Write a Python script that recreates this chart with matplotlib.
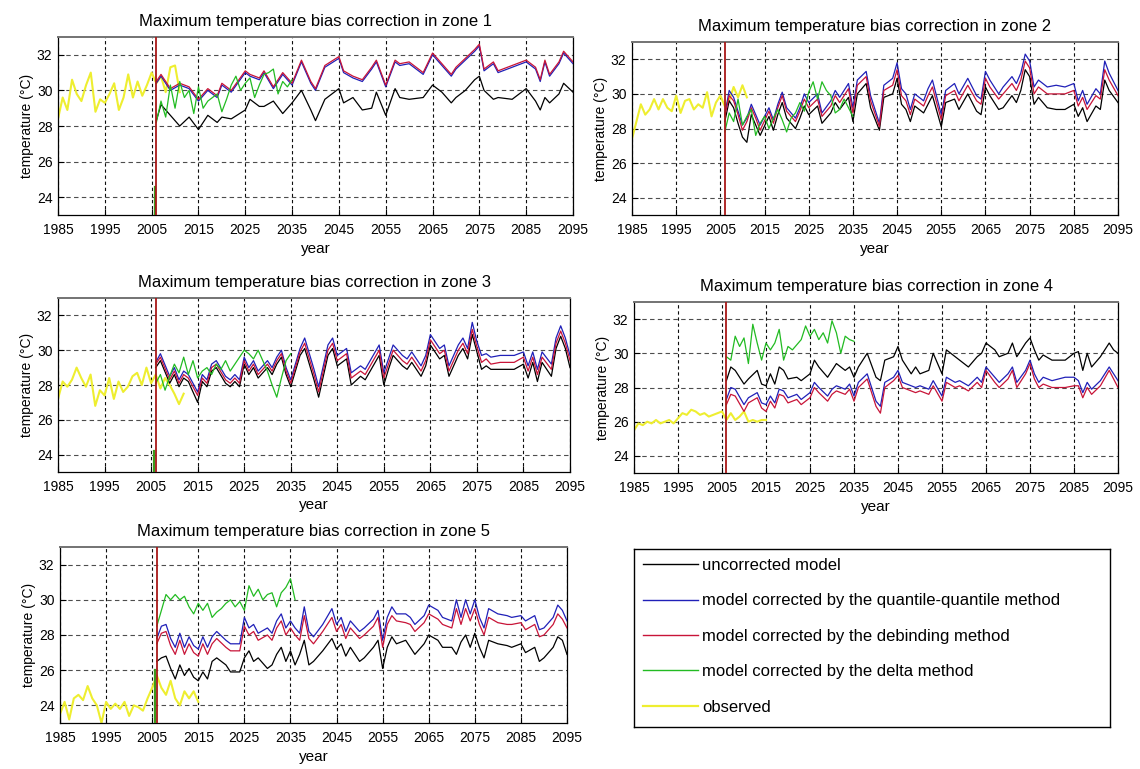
import numpy as np
import matplotlib.pyplot as plt
from matplotlib.lines import Line2D

plt.rcParams["font.family"] = ["Liberation Sans", "DejaVu Sans"]

# ---- zone 1 ----
z1_obs = [28.4, 29.6, 28.9, 30.6, 29.8, 29.4, 30.3, 31.0, 28.8, 29.5, 29.3, 29.8, 30.4, 28.9,
          29.6, 30.9, 29.6, 30.5, 29.7, 30.3, 31.0, 30.4, 30.8, 29.9, 31.3, 31.4, 29.9]
z1_years = [2006, 2007, 2009, 2011, 2013, 2015, 2017, 2019, 2020, 2022, 2025, 2026, 2028, 2029,
            2031, 2033, 2035, 2037, 2039, 2040, 2042, 2045, 2046, 2048, 2050, 2052, 2053, 2055,
            2057, 2058, 2060, 2063, 2065, 2067, 2069, 2070, 2072, 2074, 2075, 2076, 2078, 2079,
            2082, 2085, 2087, 2088, 2089, 2090, 2092, 2093, 2095]
z1_raw = [28.3, 29.2, 28.6, 28.0, 28.5, 27.8, 28.6, 28.2, 28.5, 28.4, 28.9, 29.5, 29.1, 29.1,
          29.4, 28.7, 29.3, 30.0, 28.9, 28.3, 29.5, 30.1, 29.3, 29.6, 28.9, 29.0, 29.9, 28.6,
          30.1, 29.6, 29.5, 29.6, 30.3, 29.9, 29.3, 29.6, 30.0, 30.6, 30.8, 30.0, 29.5, 29.6,
          29.5, 30.1, 29.4, 28.9, 29.6, 29.3, 29.8, 30.4, 29.9]
z1_qq = [30.4, 30.8, 30.0, 30.3, 30.1, 29.4, 30.0, 29.6, 30.3, 29.9, 31.0, 30.8, 30.6, 31.0,
         30.1, 30.9, 30.3, 31.6, 30.4, 30.0, 31.3, 31.8, 31.0, 30.7, 30.5, 31.2, 31.6, 30.2,
         31.6, 31.4, 31.5, 30.9, 32.0, 31.4, 30.8, 31.2, 31.7, 32.2, 32.5, 31.1, 31.5, 31.0,
         31.3, 31.6, 31.2, 30.5, 31.6, 30.8, 31.5, 32.1, 31.5]
z1_deb = [30.5, 30.9, 30.1, 30.4, 30.2, 29.5, 30.1, 29.7, 30.4, 30.0, 31.1, 30.9, 30.7, 31.1,
          30.2, 31.0, 30.4, 31.7, 30.5, 30.1, 31.4, 31.9, 31.1, 30.8, 30.6, 31.3, 31.7, 30.3,
          31.7, 31.5, 31.6, 31.0, 32.1, 31.5, 30.9, 31.3, 31.8, 32.3, 32.6, 31.2, 31.6, 31.1,
          31.4, 31.7, 31.3, 30.6, 31.7, 30.9, 31.6, 32.2, 31.6]
z1_delta = [28.2, 29.4, 28.5, 30.3, 29.0, 30.5, 29.6, 30.0, 28.7, 30.2, 29.0, 29.4, 29.6, 29.8,
            28.8, 29.5, 30.3, 30.8, 30.0, 30.4, 30.7, 29.6, 30.3, 30.9, 31.0, 31.2, 29.8, 30.5,
            30.2, 30.6]

# ---- zone 2 ----
z2_obs = [27.4, 28.4, 29.4, 28.8, 29.1, 29.7, 29.1, 29.7, 29.2, 29.0, 29.9, 28.9, 29.6, 29.7,
          29.1, 29.4, 29.2, 30.1, 28.7, 29.5, 29.9, 29.3, 29.6, 30.4, 29.8, 30.5, 29.8]
z2_years = [2006, 2007, 2008, 2009, 2010, 2011, 2012, 2013, 2014, 2016, 2017, 2018, 2019, 2020,
            2022, 2023, 2024, 2025, 2027, 2028, 2030, 2031, 2032, 2034, 2035, 2036, 2038, 2039,
            2041, 2042, 2044, 2045, 2046, 2047, 2048, 2049, 2051, 2052, 2053, 2055, 2056, 2058,
            2059, 2061, 2063, 2064, 2065, 2066, 2068, 2069, 2071, 2072, 2073, 2074, 2075, 2076,
            2077, 2079, 2081, 2083, 2085, 2086, 2087, 2088, 2090, 2091, 2092, 2093, 2095]
z2_raw = [28.4, 29.6, 29.2, 28.3, 27.5, 27.2, 28.8, 28.2, 27.6, 28.7, 27.9, 28.8, 29.5, 28.6,
          28.0, 28.6, 29.3, 28.8, 29.3, 28.3, 28.9, 29.5, 29.1, 29.8, 28.4, 30.0, 30.6, 29.2,
          27.9, 29.8, 30.0, 30.9, 29.4, 29.1, 28.4, 29.3, 28.9, 29.4, 29.9, 28.1, 29.5, 29.7,
          29.1, 30.0, 29.0, 28.8, 30.4, 29.9, 29.1, 29.2, 29.9, 29.5, 30.2, 31.4, 31.0, 29.4,
          29.8, 29.2, 29.1, 29.1, 29.4, 28.7, 29.2, 28.4, 29.3, 29.1, 30.8, 30.2, 29.5]
z2_qq = [28.8, 30.2, 29.8, 29.0, 28.2, 28.6, 29.4, 28.8, 28.2, 29.2, 28.5, 29.4, 30.1, 29.2,
         28.6, 29.2, 30.0, 29.5, 30.0, 28.9, 29.6, 30.2, 29.8, 30.6, 29.2, 30.8, 31.3, 29.9,
         28.3, 30.5, 30.9, 31.8, 30.3, 30.0, 29.1, 30.0, 29.6, 30.3, 30.8, 28.8, 30.2, 30.6,
         30.0, 30.9, 29.9, 29.7, 31.3, 30.8, 30.0, 30.4, 31.0, 30.6, 31.2, 32.3, 31.9, 30.4,
         30.8, 30.4, 30.5, 30.4, 30.6, 29.6, 30.2, 29.4, 30.3, 30.0, 31.9, 31.2, 30.2]
z2_deb = [28.7, 29.9, 29.6, 28.8, 27.9, 28.4, 29.2, 28.6, 27.9, 29.0, 28.3, 29.2, 29.9, 29.0,
          28.4, 29.0, 29.7, 29.2, 29.7, 28.7, 29.3, 29.9, 29.5, 30.3, 28.9, 30.5, 31.0, 29.6,
          28.1, 30.2, 30.5, 31.4, 29.9, 29.6, 28.8, 29.7, 29.3, 29.9, 30.4, 28.5, 29.9, 30.2,
          29.6, 30.5, 29.6, 29.4, 30.9, 30.4, 29.7, 30.0, 30.6, 30.2, 30.8, 31.9, 31.5, 30.0,
          30.4, 30.0, 30.0, 30.0, 30.2, 29.3, 29.8, 29.1, 29.9, 29.7, 31.4, 30.8, 29.9]
z2_delta = [27.8, 28.9, 28.4, 29.7, 28.2, 28.7, 29.1, 27.6, 28.3, 28.7, 28.0, 28.6, 29.1, 28.5,
            27.8, 28.6, 28.9, 29.5, 29.0, 30.1, 30.7, 29.7, 30.7, 30.2, 29.9, 28.9, 29.1, 29.7,
            29.2, 28.7]

# ---- zone 3 ----
z3_obs = [27.2, 28.2, 27.9, 28.3, 29.0, 28.4, 27.9, 28.6, 26.8, 27.7, 27.4, 28.4, 27.2, 28.2,
          27.6, 27.9, 28.5, 28.7, 28.0, 29.0, 28.1, 28.6, 27.8, 28.4, 28.0, 27.5, 26.9, 27.5]
z3_years = [2006, 2007, 2009, 2010, 2011, 2012, 2013, 2014, 2015, 2016, 2017, 2018, 2019, 2021,
            2022, 2023, 2024, 2025, 2026, 2027, 2028, 2030, 2031, 2032, 2033, 2034, 2035, 2037,
            2038, 2040, 2041, 2043, 2044, 2045, 2047, 2048, 2050, 2051, 2054, 2055, 2056, 2057,
            2059, 2060, 2061, 2063, 2064, 2065, 2067, 2068, 2069, 2071, 2072, 2073, 2074, 2075,
            2076, 2077, 2078, 2080, 2083, 2085, 2086, 2087, 2088, 2089, 2091, 2092, 2093, 2094,
            2095]
z3_raw = [29.0, 29.4, 28.1, 28.6, 27.9, 28.4, 28.2, 27.6, 27.0, 28.2, 27.9, 28.8, 29.0, 28.1,
          27.9, 28.2, 27.9, 29.2, 28.6, 29.0, 28.4, 29.0, 28.6, 29.2, 29.6, 28.6, 27.9, 29.7,
          30.1, 28.3, 27.3, 29.7, 30.1, 29.1, 29.5, 28.0, 28.5, 28.3, 29.7, 28.0, 28.9, 29.7,
          29.1, 28.9, 29.3, 28.5, 29.1, 30.3, 29.5, 29.7, 28.5, 29.7, 30.1, 29.5, 30.9, 29.9,
          28.9, 29.1, 28.9, 28.9, 28.9, 29.2, 28.4, 29.3, 28.2, 29.3, 28.5, 30.1, 30.8, 30.1,
          29.0]
z3_qq = [29.3, 29.8, 28.5, 29.0, 28.3, 28.8, 28.6, 28.1, 27.6, 28.6, 28.3, 29.2, 29.4, 28.5,
         28.3, 28.6, 28.3, 29.6, 29.0, 29.4, 28.8, 29.4, 29.0, 29.6, 30.0, 29.0, 28.3, 30.1,
         30.7, 28.9, 27.9, 30.3, 30.7, 29.7, 30.1, 28.7, 29.1, 28.9, 30.3, 28.7, 29.5, 30.3,
         29.7, 29.5, 29.9, 29.1, 29.7, 30.9, 30.1, 30.3, 29.1, 30.3, 30.7, 30.1, 31.6, 30.5,
         29.7, 29.8, 29.6, 29.7, 29.7, 29.9, 29.1, 29.9, 28.9, 29.9, 29.2, 30.7, 31.4, 30.7,
         29.7]
z3_deb = [29.2, 29.6, 28.3, 28.8, 28.1, 28.6, 28.4, 27.9, 27.4, 28.4, 28.1, 29.0, 29.2, 28.3,
          28.1, 28.4, 28.1, 29.4, 28.8, 29.2, 28.6, 29.2, 28.8, 29.4, 29.8, 28.8, 28.1, 29.9,
          30.4, 28.6, 27.6, 30.0, 30.4, 29.4, 29.8, 28.4, 28.8, 28.6, 30.0, 28.4, 29.2, 30.0,
          29.4, 29.2, 29.6, 28.8, 29.4, 30.6, 29.8, 30.0, 28.8, 30.0, 30.4, 29.8, 31.2, 30.2,
          29.3, 29.5, 29.2, 29.3, 29.3, 29.6, 28.8, 29.6, 28.6, 29.6, 28.9, 30.4, 31.1, 30.4,
          29.4]
z3_delta = [28.1, 28.6, 27.7, 28.5, 29.2, 28.7, 29.6, 28.6, 29.4, 28.4, 28.8, 29.0, 28.6, 29.2,
            28.9, 29.4, 28.8, 29.2, 29.6, 30.0, 29.8, 29.5, 30.0, 29.4, 28.8, 28.0, 27.3, 28.4,
            29.4, 29.8]

# ---- zone 4 ----
z4_obs = [25.5, 25.9, 25.8, 26.0, 25.9, 26.1, 25.9, 26.0, 26.1, 25.9, 26.2, 26.5, 26.4, 26.7,
          26.6, 26.4, 26.5, 26.3, 26.4, 26.5, 26.6, 26.1, 26.5, 26.1, 26.3, 26.6, 26.0, 26.1,
          26.0, 26.1, 26.1]
z4_years = [2006, 2007, 2008, 2010, 2011, 2013, 2014, 2015, 2016, 2017, 2018, 2019, 2020, 2022,
            2023, 2025, 2026, 2027, 2029, 2030, 2031, 2033, 2034, 2035, 2036, 2038, 2040, 2041,
            2042, 2044, 2045, 2046, 2048, 2049, 2050, 2052, 2053, 2055, 2056, 2058, 2059, 2061,
            2063, 2064, 2065, 2067, 2068, 2070, 2071, 2072, 2074, 2075, 2076, 2077, 2078, 2080,
            2083, 2085, 2086, 2087, 2088, 2089, 2091, 2093, 2094, 2095]
z4_raw = [28.4, 29.2, 29.0, 28.2, 28.5, 29.0, 28.2, 28.1, 28.8, 28.2, 29.2, 29.0, 28.5, 28.6,
          28.4, 28.8, 29.6, 29.2, 28.6, 29.0, 29.4, 29.0, 29.2, 28.6, 29.2, 30.0, 28.6, 28.4,
          29.6, 29.8, 30.4, 29.6, 28.8, 29.2, 28.8, 29.0, 30.0, 28.8, 30.2, 29.8, 29.6, 29.2,
          29.8, 30.0, 30.6, 30.2, 29.8, 30.0, 30.6, 29.8, 30.6, 30.9, 30.2, 29.6, 29.9, 29.6,
          29.6, 30.0, 30.1, 29.0, 30.0, 29.2, 29.8, 30.6, 30.2, 30.0]
z4_qq = [27.3, 28.0, 27.9, 27.0, 27.4, 27.7, 27.1, 27.0, 27.5, 27.1, 27.9, 27.8, 27.4, 27.6,
         27.3, 27.7, 28.3, 28.0, 27.5, 27.9, 28.1, 27.9, 28.2, 27.5, 28.3, 28.8, 27.2, 26.9,
         28.3, 28.6, 29.0, 28.3, 28.1, 28.0, 28.1, 27.9, 28.4, 27.5, 28.6, 28.3, 28.4, 28.1,
         28.6, 28.3, 29.2, 28.6, 28.3, 28.8, 29.2, 28.3, 29.0, 29.6, 28.8, 28.3, 28.6, 28.4,
         28.6, 28.6, 28.4, 27.7, 28.3, 27.9, 28.4, 29.2, 28.8, 28.4]
z4_deb = [27.0, 27.6, 27.5, 26.6, 27.1, 27.4, 26.8, 26.6, 27.2, 26.8, 27.6, 27.5, 27.1, 27.3,
          27.0, 27.4, 28.0, 27.7, 27.2, 27.6, 27.8, 27.6, 27.9, 27.2, 28.0, 28.5, 26.9, 26.5,
          28.0, 28.4, 28.7, 28.0, 27.8, 27.7, 27.8, 27.6, 28.1, 27.2, 28.3, 28.0, 28.1, 27.8,
          28.3, 28.0, 29.0, 28.3, 28.0, 28.5, 29.0, 28.0, 28.8, 29.4, 28.5, 28.0, 28.2, 28.0,
          28.0, 28.1, 28.1, 27.4, 28.0, 27.6, 28.1, 29.0, 28.5, 28.0]
z4_delta = [29.8, 29.6, 31.0, 30.4, 30.9, 29.4, 31.7, 30.6, 29.6, 30.6, 30.2, 30.6, 31.4, 29.6,
            30.4, 30.2, 30.5, 30.8, 31.6, 31.0, 31.4, 30.8, 31.2, 30.6, 31.9, 31.2, 30.0, 31.0,
            30.8, 30.7]

# ---- zone 5 ----
z5_obs = [23.5, 24.2, 23.2, 24.4, 24.6, 24.3, 25.1, 24.4, 24.0, 23.0, 24.2, 23.8, 24.1, 23.8,
          24.2, 23.4, 24.0, 23.9, 23.7, 24.4, 25.0, 25.7, 25.0, 24.6, 25.4, 24.4, 24.0, 24.8,
          24.4, 24.8, 24.2]
z5_years = [2006, 2007, 2008, 2009, 2010, 2011, 2012, 2013, 2014, 2015, 2016, 2017, 2018, 2019,
            2021, 2022, 2024, 2025, 2026, 2027, 2028, 2030, 2031, 2032, 2033, 2034, 2035, 2036,
            2037, 2038, 2039, 2040, 2042, 2044, 2045, 2046, 2047, 2048, 2050, 2051, 2053, 2054,
            2055, 2056, 2057, 2058, 2060, 2061, 2062, 2064, 2065, 2067, 2068, 2070, 2071, 2072,
            2073, 2074, 2075, 2076, 2077, 2078, 2080, 2082, 2083, 2085, 2086, 2088, 2089, 2090,
            2092, 2093, 2094, 2095]
z5_raw = [26.5, 26.7, 26.8, 26.1, 25.5, 26.3, 25.7, 26.1, 25.6, 25.4, 25.9, 25.5, 26.5, 26.7,
          26.3, 25.9, 25.9, 26.7, 27.1, 26.5, 26.7, 26.1, 26.3, 26.9, 27.3, 26.5, 27.1, 26.3,
          26.9, 27.7, 26.3, 26.5, 27.1, 27.8, 27.2, 27.5, 26.8, 27.3, 26.5, 26.7, 27.3, 27.7,
          26.1, 27.3, 27.9, 27.5, 27.7, 27.3, 26.9, 27.5, 28.0, 27.7, 27.3, 27.3, 26.9, 27.6,
          28.0, 27.3, 28.1, 27.3, 26.7, 27.7, 27.5, 27.4, 27.3, 27.5, 27.0, 27.3, 26.5, 26.7,
          27.3, 27.9, 27.7, 26.9]
z5_qq = [27.8, 28.5, 28.6, 27.8, 27.3, 28.1, 27.3, 27.9, 27.4, 27.2, 27.9, 27.3, 27.9, 28.2,
         27.7, 27.5, 27.5, 29.0, 28.4, 28.6, 28.1, 28.4, 28.1, 28.8, 29.2, 28.4, 28.8, 28.4,
         28.1, 29.6, 28.2, 27.9, 28.6, 29.5, 28.6, 29.0, 28.2, 28.8, 28.2, 28.4, 28.9, 29.4,
         27.7, 29.0, 29.6, 29.2, 29.2, 29.0, 28.6, 29.1, 29.7, 29.4, 29.0, 28.8, 30.0, 29.0,
         30.0, 29.2, 30.0, 29.0, 28.4, 29.5, 29.2, 29.1, 29.0, 29.1, 28.8, 29.1, 28.3, 28.4,
         29.0, 29.7, 29.4, 28.8]
z5_deb = [27.5, 28.1, 28.2, 27.4, 26.9, 27.7, 26.9, 27.5, 27.0, 26.8, 27.5, 26.9, 27.5, 27.8,
          27.3, 27.1, 27.1, 28.5, 28.0, 28.2, 27.7, 28.0, 27.7, 28.4, 28.8, 28.0, 28.4, 28.0,
          27.7, 29.1, 27.8, 27.5, 28.2, 29.0, 28.2, 28.6, 27.8, 28.4, 27.8, 28.0, 28.5, 29.0,
          27.3, 28.6, 29.1, 28.8, 28.7, 28.6, 28.2, 28.7, 29.2, 28.9, 28.6, 28.4, 29.5, 28.6,
          29.5, 28.8, 29.5, 28.6, 28.0, 29.0, 28.7, 28.6, 28.6, 28.7, 28.3, 28.6, 27.9, 28.0,
          28.6, 29.2, 28.9, 28.4]
z5_delta = [28.5, 29.4, 30.3, 30.0, 30.3, 30.0, 30.2, 29.6, 29.2, 29.8, 29.4, 29.8, 29.0, 29.3,
            29.5, 29.8, 30.0, 29.6, 29.9, 29.4, 30.8, 30.2, 30.6, 30.0, 30.3, 30.4, 29.6, 30.4,
            30.7, 31.2, 30.0]

# top of the short green segment at the start of the projection (None = not drawn)
stub_top = [24.6, None, 24.2, None, 26.0]

OBS_START = 1985
DELTA_START = 2006
SPLIT_YEAR = 2006

C_RAW = "#000000"
C_QQ = "#2020b8"
C_DEB = "#c81438"
C_DELTA = "#22bb22"
C_OBS = "#eeee30"
C_SPLIT = "#a81818"

labels = ["uncorrected model",
          "model corrected by the quantile-quantile method",
          "model corrected by the debinding method",
          "model corrected by the delta method",
          "observed"]

zones = [
    (z1_obs, z1_years, z1_raw, z1_qq, z1_deb, z1_delta),
    (z2_obs, z2_years, z2_raw, z2_qq, z2_deb, z2_delta),
    (z3_obs, z3_years, z3_raw, z3_qq, z3_deb, z3_delta),
    (z4_obs, z4_years, z4_raw, z4_qq, z4_deb, z4_delta),
    (z5_obs, z5_years, z5_raw, z5_qq, z5_deb, z5_delta),
]

W, H = 1140, 769
# axes boxes in pixels: left, top, right, bottom
boxes = [(58, 37, 573, 215), (632, 42, 1118, 215),
         (58, 298, 570, 472), (634, 302, 1118, 473),
         (60, 547, 567, 723)]


def px_axes(fig, l, t, r, b):
    return fig.add_axes([l / W, 1 - b / H, (r - l) / W, (b - t) / H])


def draw_zone(ax, n, obs, yrs, raw, qq, deb, delta, stub):
    ax.plot(np.arange(OBS_START, OBS_START + len(obs)), obs, color=C_OBS, lw=1.5, zorder=2)
    ax.plot(yrs, raw, color=C_RAW, lw=0.9, zorder=3)
    ax.plot(yrs, qq, color=C_QQ, lw=0.9, zorder=3)
    ax.plot(yrs, deb, color=C_DEB, lw=0.9, zorder=3)
    ax.plot(np.arange(DELTA_START, DELTA_START + len(delta)), delta, color=C_DELTA, lw=0.9, zorder=4)
    if stub is not None:
        ax.plot([2005.7, 2005.7], [23, stub], color="#3c9a1c", lw=1.6, zorder=4)
    ax.axvline(SPLIT_YEAR, color=C_SPLIT, lw=1.3, zorder=5)

    ax.set_xlim(1985, 2095)
    ax.set_ylim(23, 33)
    ax.set_xticks(np.arange(1985, 2096, 10))
    ax.set_yticks(np.arange(24, 33, 2))
    ax.tick_params(direction="in", length=4, labelsize=10, width=0.8)
    ax.tick_params(axis="x", pad=6)
    ax.tick_params(axis="y", pad=4)
    ax.grid(True, axis="y", color="0.3", linestyle=(0, (4, 3)), lw=0.8)
    ax.grid(True, axis="x", color="0.05", linestyle=(0, (3, 2.5)), lw=0.8)
    for s in ax.spines.values():
        s.set_linewidth(0.9)
    ax.spines["top"].set_color("0.45")
    ax.spines["top"].set_linewidth(1.4)
    ax.set_title(f"Maximum temperature bias correction in zone {n}", fontsize=12, pad=8)
    ax.set_xlabel("year", fontsize=11, labelpad=3)
    ax.set_ylabel("temperature (\u00b0C)", fontsize=10, labelpad=2)


fig = plt.figure(figsize=(W / 100, H / 100), dpi=100)

for i, (zone, box) in enumerate(zip(zones, boxes)):
    ax = px_axes(fig, *box)
    draw_zone(ax, i + 1, *zone, stub_top[i])

# legend panel
lax = px_axes(fig, 634, 549, 1110, 727)
lax.set_xticks([])
lax.set_yticks([])
for s in lax.spines.values():
    s.set_linewidth(1.0)
handles = [Line2D([], [], color=c, lw=1.0) for c in (C_RAW, C_QQ, C_DEB, C_DELTA, C_OBS)]
handles[-1].set_linewidth(1.6)
lax.legend(handles, labels, loc="upper left", bbox_to_anchor=(0.0, 1.0), frameon=False,
           fontsize=12, handlelength=3.3, handletextpad=0.25, labelspacing=1.22,
           borderaxespad=0.15)

fig.savefig("out.png", dpi=100)
